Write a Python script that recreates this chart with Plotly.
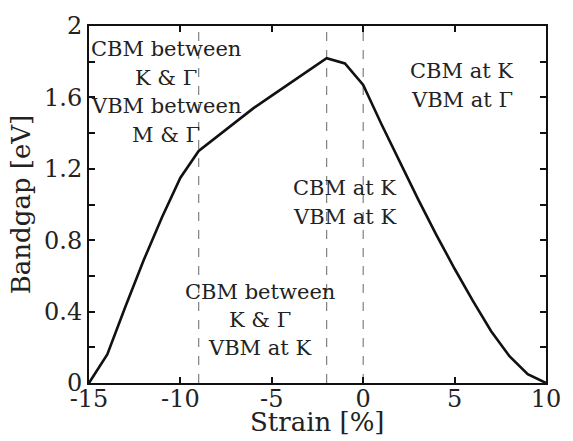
import plotly.graph_objects as go

# Bandgap vs. biaxial strain
strain = [-15, -14, -13, -12, -11, -10, -9, -8, -7, -6, -5, -4, -3, -2, -1, 0,
          1, 2, 3, 4, 5, 6, 7, 8, 9, 10]
bandgap = [0.0, 0.16, 0.43, 0.69, 0.93, 1.15, 1.30, 1.38, 1.46, 1.54, 1.61, 1.68, 1.75, 1.82, 1.79, 1.67,
           1.45, 1.24, 1.03, 0.83, 0.64, 0.46, 0.29, 0.15, 0.05, 0.0]

# Transition strains between band-edge regimes
boundaries = [-9, -2, 0]

# Region labels: (x centre, list of (y, text))
region_x = [-10.8, -5.67, -1.05, 5.4]
region_lines = [
    [(1.87, "CBM between"), (1.71, "K &amp; Γ"), (1.55, "VBM between"), (1.39, "M &amp; Γ")],
    [(0.508, "CBM between"), (0.355, "K &amp; Γ"), (0.197, "VBM at K")],
    [(1.093, "CBM at K"), (0.93, "VBM at K")],
    [(1.749, "CBM at K"), (1.585, "VBM at Γ")],
]

x_ticks = [-15, -10, -5, 0, 5, 10]
y_ticks = [0, 0.4, 0.8, 1.2, 1.6, 2.0]
y_tick_text = ["0", "0.4", "0.8", "1.2", "1.6", "2"]

FONT = "DejaVu Serif"
TXT = "#222222"

fig = go.Figure()

for b in boundaries:
    fig.add_shape(type="line", x0=b, x1=b, y0=0, y1=2, xref="x", yref="y",
                  line=dict(color="#808080", width=1.2, dash="dash"), layer="below")

fig.add_trace(go.Scatter(x=strain, y=bandgap, mode="lines",
                         line=dict(color="#111111", width=2.6), showlegend=False))

for cx, lines in zip(region_x, region_lines):
    for yy, t in lines:
        fig.add_annotation(x=cx, y=yy, text=t, showarrow=False, xref="x", yref="y",
                           xanchor="center", yanchor="middle",
                           font=dict(family=FONT, size=21, color=TXT))

# x-axis title, set just under the tick labels
fig.add_annotation(x=0.5, y=-0.108, xref="paper", yref="paper", text="Strain [%]",
                   showarrow=False, xanchor="center", yanchor="middle",
                   font=dict(family=FONT, size=26, color=TXT))

axis_common = dict(showline=True, linecolor="#111111", linewidth=2, mirror="ticks",
                   ticks="inside", ticklen=6, tickwidth=1.5, tickcolor="#111111",
                   showgrid=False, zeroline=False,
                   tickfont=dict(family=FONT, size=24, color=TXT))

fig.update_xaxes(range=[-15, 10], tickvals=x_ticks, ticktext=[str(v) for v in x_ticks],
                 ticklabelstandoff=-7, **axis_common)
fig.update_yaxes(range=[0, 2], tickvals=y_ticks, ticktext=y_tick_text,
                 minor=dict(dtick=0.2, ticks="inside", ticklen=6, tickcolor="#111111", tickwidth=1.5),
                 title=dict(text="Bandgap [eV]", font=dict(family=FONT, size=26, color=TXT),
                            standoff=6),
                 ticklabelstandoff=0, **axis_common)

fig.update_layout(width=573, height=441, margin=dict(l=89, r=18, t=17, b=58),
                  plot_bgcolor="white", paper_bgcolor="white")

fig.write_html("out.html")
